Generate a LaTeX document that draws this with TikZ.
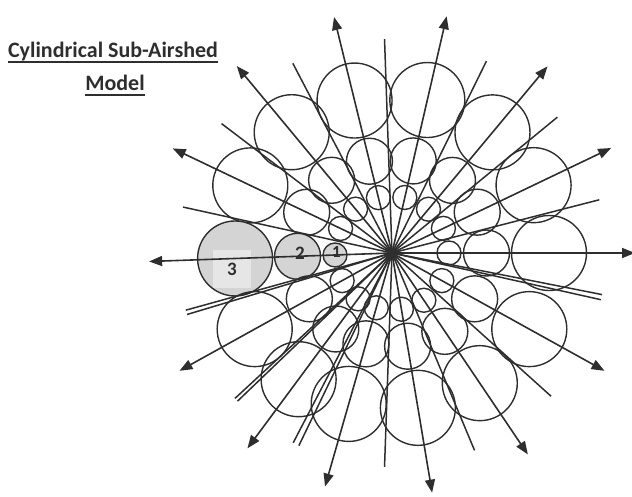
\documentclass[tikz,border=0pt]{standalone}
\usepackage{fontspec}
\setmainfont{Carlito}
\usepackage{xcolor}
\usepackage{tikz}
\usetikzlibrary{arrows.meta,positioning,calc}
\definecolor{ink}{HTML}{2E2E2E}
\definecolor{shade}{HTML}{D4D4D4}
\definecolor{patch}{HTML}{E6E6E6}

\begin{document}
\begin{tikzpicture}[x=1pt,y=1pt,
  ray/.style={draw=ink,line width=1.6pt,-{Triangle[length=13pt,width=10pt]}},
  spoke/.style={draw=ink,line width=1.5pt},
  cell/.style={circle,draw=ink,line width=1.4pt,inner sep=0pt,outer sep=0pt},
  hot/.style={cell,fill=shade},
  tag/.style={font=\fontsize{19}{19}\selectfont\bfseries,text=ink,inner sep=0pt},
  ttl/.style={font=\fontsize{22}{22}\selectfont\bfseries,text=ink,inner sep=0pt,text depth=5pt,anchor=base},
  uline/.style={draw=ink,line width=1.6pt}
]
\useasboundingbox (-392,-243) rectangle (240,253);
\coordinate (hub) at (0,0);

% three cells on every ray
\foreach \a/\st [count=\k] in {0/cell,25.6/cell,50.2/cell,77/cell,103.8/cell,129.7/cell,154.5/cell,
    182/hot,209/cell,233.5/cell,254/cell,279.5/cell,304/cell,331/cell}{
  \node[\st,minimum size=24pt] (near\k) at (\a:57) {};
  \node[\st,minimum size=46pt] (mid\k) at (\a:94.5) {};
  \node[\st,minimum size=75pt] (far\k) at (\a:157) {};
}
\node[fill=patch,minimum width=38pt,minimum height=38pt,inner sep=0pt] (patch3) at (-160,-16) {};

% sector borders
\foreach \a [count=\k] in {14.4,39.4,63.8,92,117.6,142.8,167.6,195.5,196.7,222.8,223.8,
    242.5,244.2,268,292.7,318,347.4,348.8}{
  \coordinate (end\k) at (\a:214);
  \draw[spoke] (hub) -- (end\k);
}
% rays
\foreach \a [count=\k] in {0,25.6,50.2,77,103.8,129.7,154.5,182,209,233.5,254,279.5,304,331}{
  \coordinate (tip\k) at (\a:243);
  \draw[ray] (hub) -- (tip\k);
}

\node[tag,font=\fontsize{17}{17}\selectfont\bfseries] (lab1) at (-55.5,1) {1};
\node[tag] (lab2) at (-92,0) {2};
\node[tag] (lab3) at (-160,-16) {3};

\node[ttl] (ttl1) at (-279,196) {Cylindrical Sub-Airshed};
\node[ttl] (ttl2) at (-277,163) {Model};
\draw[uline] (ttl1.south west) -- (ttl1.south east);
\draw[uline] (ttl2.south west) -- (ttl2.south east);
\end{tikzpicture}
\end{document}
